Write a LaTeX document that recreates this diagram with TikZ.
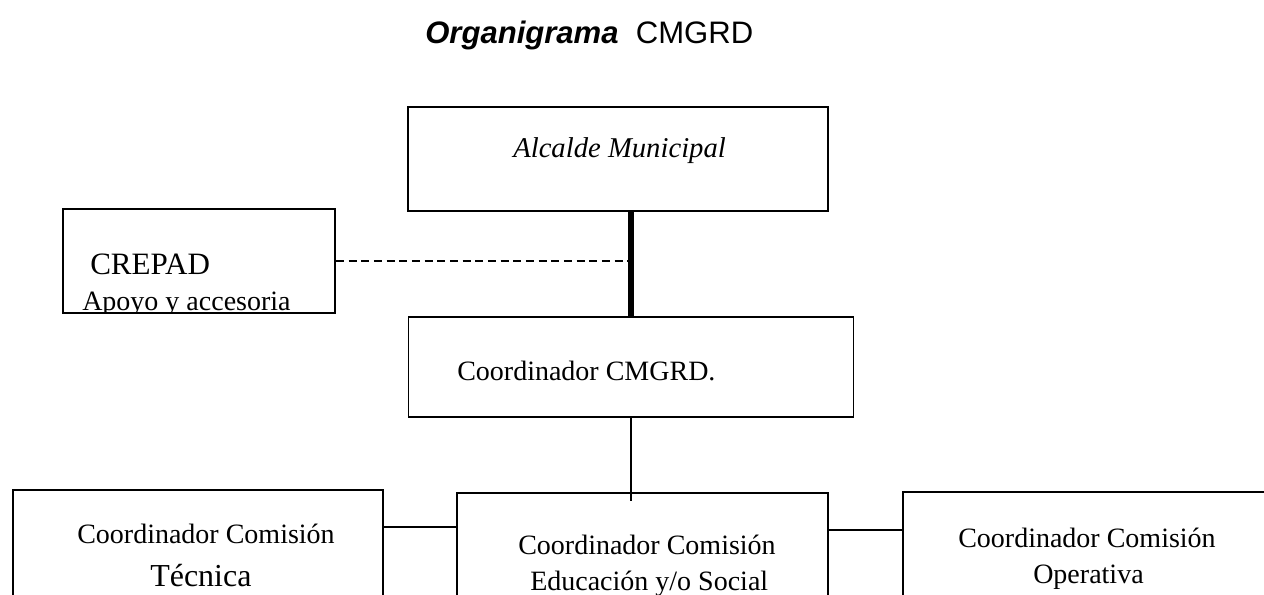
\documentclass[tikz,border=0pt]{standalone}
\usepackage{fontspec}
\setmainfont{Liberation Serif}
\newfontfamily\titlefont{Liberation Sans}
\usetikzlibrary{positioning}

\begin{document}
\begin{tikzpicture}[x=0.75pt,y=-0.75pt,
        caja/.style={draw,rectangle,line width=1.3pt,inner sep=0pt},
        txt/.style={anchor=base west,inner sep=0pt,font=\fontsize{21}{24}\selectfont},
        linea/.style={line width=1.3pt}]
        \useasboundingbox (0,0) rectangle (1264,594);
        \clip (0,0) rectangle (1264,594);
        % titulo
        \node[txt,font=\titlefont\fontsize{23.3}{26}\selectfont] (titulo) at (425,43) {\textbf{\textit{Organigrama}}\ \ CMGRD};
        % cajas
        \node[caja,minimum width=315pt,minimum height=78pt] (alcalde) at (618,159) {};
        \node[caja,minimum width=204pt,minimum height=78pt] (crepad) at (199,261) {};
        \node[caja,minimum width=333.75pt,minimum height=75pt] (coord) at (631,367) {};
        \node[caja,minimum width=277.5pt,minimum height=150pt] (tecnica) at (198,590) {};
        \node[caja,minimum width=278.25pt,minimum height=150pt] (educacion) at (642.5,593) {};
        \node[caja,minimum width=282.75pt,minimum height=150pt] (operativa) at (1091.5,592) {};
        % textos
        \node[txt,font=\fontsize{21.5}{24}\selectfont\itshape] (t-alcalde) at (513,157) {Alcalde Municipal};
        \node[txt,font=\fontsize{23.3}{26}\selectfont] (t-crepad) at (90,274) {CREPAD};
        \begin{scope}
            \clip (crepad.north west) rectangle (crepad.south east);
            \node[txt] (t-apoyo) at (82,310) {Apoyo y accesoria};
        \end{scope}
        \node[txt] (t-coord) at (457,380) {Coordinador CMGRD.};
        \node[txt] (t-tec1) at (77,543) {Coordinador Comisión};
        \node[txt,font=\fontsize{24}{28}\selectfont] (t-tec2) at (150,586) {Técnica};
        \node[txt] (t-edu1) at (518,554) {Coordinador Comisión};
        \node[txt] (t-edu2) at (530,590) {Educación y/o Social};
        \node[txt] (t-op1) at (958,547) {Coordinador Comisión};
        \node[txt] (t-op2) at (1033,583) {Operativa};
        % conectores
        \draw[line width=4pt] (coord.north) -- (coord.north |- alcalde.south);
        \coordinate (cruce) at (coord.north |- crepad.east);
        \draw[linea,dash pattern=on 6pt off 3.5pt] (crepad.east) -- (cruce);
        \coordinate (punta) at ([yshift=-6.75pt]coord.south |- educacion.north);
        \draw[linea] (coord.south) -- (punta);
        \coordinate (c1) at ([yshift=-28.5pt]tecnica.north east);
        \draw[linea] (c1) -- (c1 -| educacion.west);
        \coordinate (c2) at ([yshift=-28.5pt]educacion.north east);
        \draw[linea] (c2) -- (c2 -| operativa.west);
    \end{tikzpicture}
\end{document}
